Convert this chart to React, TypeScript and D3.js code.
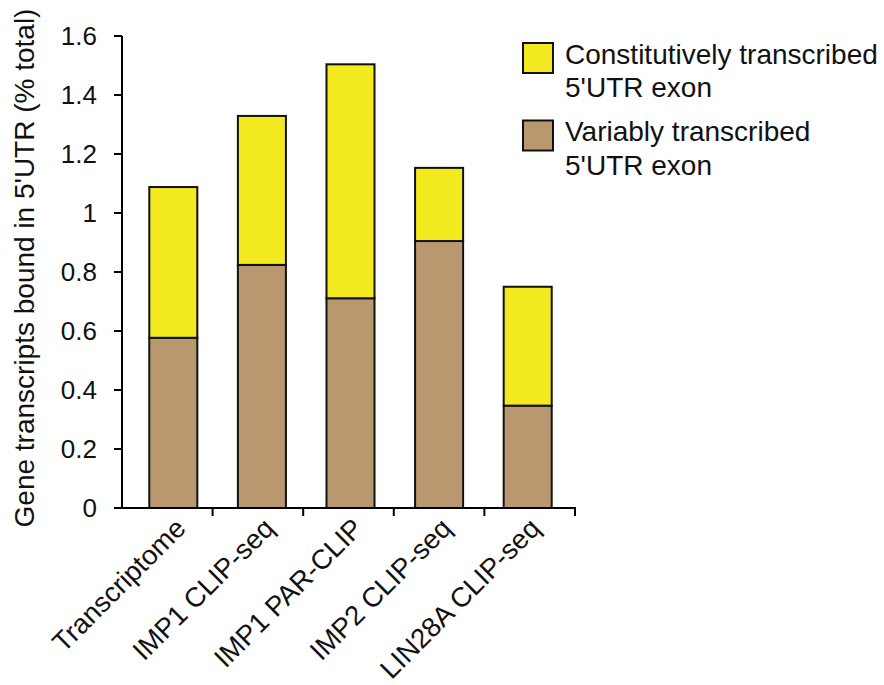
import React from "react";
import * as d3 from "d3";

const categories = ["Transcriptome", "IMP1 CLIP-seq", "IMP1 PAR-CLIP", "IMP2 CLIP-seq", "LIN28A CLIP-seq"];
const variable = [0.577, 0.824, 0.711, 0.905, 0.347];
const constitutive = [0.511, 0.505, 0.793, 0.248, 0.403];
const yTicks = [0, 0.2, 0.4, 0.6, 0.8, 1, 1.2, 1.4, 1.6];
const seriesNames = ["Constitutively transcribed", "Variably transcribed"];

const W = 884;
const H = 685;
const FONT = "'Liberation Sans', Arial, Helvetica, sans-serif";
const YELLOW = "#F3EA1F";
const BROWN = "#BA986F";

export default function App() {
  const y = d3.scaleLinear().domain([0, 1.6]).range([508, 36]);
  const axisX = d3.scaleBand<string>().domain(categories).range([122, 575]);
  const barX = d3
    .scaleBand<string>()
    .domain(categories)
    .range([129, 572])
    .paddingInner(0.458)
    .paddingOuter(0.229);
  const bw = barX.bandwidth();

  const rows = categories.map((c, i) => ({ c, v: variable[i], k: constitutive[i] }));
  const stack = d3.stack<any>().keys(["v", "k"])(rows as any);
  const fills = [BROWN, YELLOW];

  const xTickPos = categories.map((c) => (axisX(c) as number) + axisX.bandwidth());

  return (
    <svg
      width={W}
      height={H}
      style={{ position: "absolute", left: 0, top: 0, display: "block", background: "#fff" }}
      fontFamily={FONT}
    >
      {/* bars */}
      {stack.map((s, si) =>
        s.map((d, i) => (
          <rect
            key={`${si}-${i}`}
            x={barX(categories[i])}
            y={y(d[1])}
            width={bw}
            height={y(d[0]) - y(d[1])}
            fill={fills[si]}
            stroke="#111"
            strokeWidth={2}
          />
        ))
      )}

      {/* y axis */}
      <line x1={122} x2={122} y1={y(1.6)} y2={y(0)} stroke="#000" strokeWidth={2} />
      {yTicks.map((t) => (
        <g key={t}>
          <line x1={114} x2={122} y1={y(t)} y2={y(t)} stroke="#000" strokeWidth={2} />
          <text x={97} y={y(t)} dy="0.36em" textAnchor="end" fontSize={26} fill="#111">
            {d3.format("~g")(t)}
          </text>
        </g>
      ))}

      {/* x axis */}
      <line x1={114} x2={576} y1={y(0)} y2={y(0)} stroke="#000" strokeWidth={2} />
      {xTickPos.map((p, i) => (
        <line key={i} x1={p} x2={p} y1={y(0)} y2={y(0) + 8} stroke="#000" strokeWidth={2} />
      ))}
      {categories.map((c) => {
        const cx = (barX(c) as number) + bw / 2 + 14;
        const cy = 530;
        return (
          <text
            key={c}
            transform={`translate(${cx},${cy}) rotate(-45)`}
            textAnchor="end"
            fontSize={27.5}
            fill="#111"
          >
            {c}
          </text>
        );
      })}

      {/* y title */}
      <text
        transform={`translate(33.5,268) rotate(-90)`}
        textAnchor="middle"
        fontSize={28}
        fill="#111"
      >
        Gene transcripts bound in 5'UTR (% total)
      </text>

      {/* legend */}
      {[YELLOW, BROWN].map((col, i) => (
        <g key={i} transform={`translate(0,${i * 77.5})`}>
          <rect x={523} y={43} width={30} height={30} fill={col} stroke="#111" strokeWidth={2} />
          <text x={565} y={63.5} fontSize={28} fill="#111">
            {seriesNames[i]}
          </text>
          <text x={565} y={97} fontSize={28} fill="#111">
            5'UTR exon
          </text>
        </g>
      ))}
    </svg>
  );
}
